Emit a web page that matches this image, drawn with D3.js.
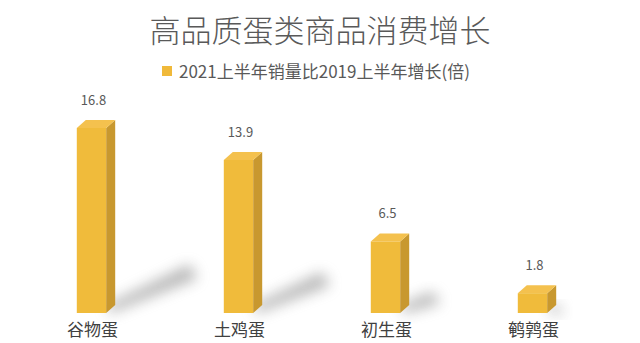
<!DOCTYPE html>
<html>
<head>
<meta charset="utf-8">
<script src="https://cdn.jsdelivr.net/npm/d3@7"></script>
<style>
  body { margin: 0; background: #fff; }
  svg { display: block; font-family: "Microsoft YaHei", "Noto Sans CJK SC", sans-serif; }
</style>
</head>
<body>
<svg id="chart" width="640" height="343"></svg>
<script>
// data
const categories = ['谷物蛋', '土鸡蛋', '初生蛋', '鹌鹑蛋'];
const values = [16.8, 13.9, 6.5, 1.8];
const seriesName = '2021上半年销量比2019上半年增长(倍)';
const title = '高品质蛋类商品消费增长';

const width = 640, height = 343;
const svg = d3.select('#chart');

const x = d3.scaleBand().domain(categories).range([18, 606]).paddingInner(0.8).paddingOuter(0.4);
const y = d3.scaleLinear().domain([0, 16.8]).range([313, 128]);

const depthX = 9, depthY = 8;

// shadow blur
const defs = svg.append('defs');
defs.append('filter').attr('id', 'blur')
  .attr('x', '-50%').attr('y', '-50%').attr('width', '200%').attr('height', '200%')
  .append('feGaussianBlur').attr('stdDeviation', 7);

// title
svg.append('text')
  .attr('x', 320).attr('y', 42)
  .attr('text-anchor', 'middle')
  .attr('font-size', 31)
  .attr('font-weight', 300)
  .attr('fill', '#595959')
  .text(title);

// legend
svg.append('rect')
  .attr('x', 162).attr('y', 66).attr('width', 10).attr('height', 10)
  .attr('fill', '#f0b93a');
svg.append('text')
  .attr('x', 179).attr('y', 78)
  .attr('font-size', 17)
  .attr('fill', '#595959')
  .text(seriesName);

const data = categories.map((c, i) => ({ c, v: values[i] }));

// shadows
svg.append('g').selectAll('path')
  .data(data)
  .join('path')
  .attr('filter', 'url(#blur)')
  .attr('fill', '#7a7a7a')
  .attr('opacity', 0.55)
  .attr('d', d => {
    const x1 = x(d.c) + x.bandwidth();
    const h = y(0) - y(d.v);
    const b = y(0) - 4;
    return `M${x1},${b - 4} L${x1 + 0.45 * h},${b - 0.24 * h} L${x1 + 0.45 * h + 8},${b - 0.22 * h + 10} L${x1 + 4},${b + 4} Z`;
  });

const bars = svg.append('g').selectAll('g')
  .data(data)
  .join('g');

// front face
bars.append('rect')
  .attr('x', d => x(d.c))
  .attr('y', d => y(d.v))
  .attr('width', x.bandwidth())
  .attr('height', d => y(0) - y(d.v))
  .attr('fill', '#f0bb3b');

// side face
bars.append('path')
  .attr('fill', '#c8982f')
  .attr('d', d => {
    const x1 = x(d.c) + x.bandwidth();
    return `M${x1},${y(d.v)} L${x1 + depthX},${y(d.v) - depthY} L${x1 + depthX},${y(0) - depthY} L${x1},${y(0)} Z`;
  });

// top face
bars.append('path')
  .attr('fill', '#f4c14e')
  .attr('d', d => {
    const x0 = x(d.c), x1 = x0 + x.bandwidth(), t = y(d.v);
    return `M${x0},${t} L${x0 + depthX},${t - depthY} L${x1 + depthX},${t - depthY} L${x1},${t} Z`;
  });

// value labels
bars.append('text')
  .attr('x', d => x(d.c) + x.bandwidth() / 2 + 2)
  .attr('y', d => y(d.v) - 23)
  .attr('text-anchor', 'middle')
  .attr('font-size', 13)
  .attr('fill', '#595959')
  .text(d => d.v);

// category axis labels
svg.append('g').selectAll('text')
  .data(categories)
  .join('text')
  .attr('x', d => x(d) + x.bandwidth() / 2 + 1)
  .attr('y', 336)
  .attr('text-anchor', 'middle')
  .attr('font-size', 17)
  .attr('fill', '#404040')
  .text(d => d);
</script>
</body>
</html>
